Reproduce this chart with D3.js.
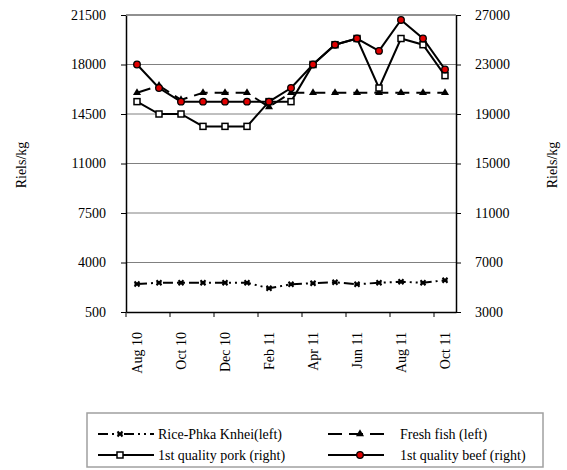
<!DOCTYPE html>
<html><head><meta charset="utf-8">
<script src="https://cdn.jsdelivr.net/npm/d3@7"></script>
<style>body{margin:0;background:#fff}svg text{font-family:"Liberation Serif","DejaVu Serif",serif !important}</style>
</head><body><svg id="c" width="567" height="470"></svg>
<script>
const months = ["Aug 10","Sep 10","Oct 10","Nov 10","Dec 10","Jan 11","Feb 11","Mar 11","Apr 11","May 11","Jun 11","Jul 11","Aug 11","Sep 11","Oct 11"];
const tickLabels = ["Aug 10","Oct 10","Dec 10","Feb 11","Apr 11","Jun 11","Aug 11","Oct 11"];
const leftTicks = [500,4000,7500,11000,14500,18000,21500];
const rightTicks = [3000,7000,11000,15000,19000,23000,27000];
const rice = [2480,2570,2570,2570,2570,2570,2180,2460,2530,2600,2460,2570,2640,2570,2740];
const fish = [16000,16500,15500,16000,16000,16000,15000,16000,16000,16000,16000,16000,16000,16000,16000];
const pork = [20000,19000,19000,18000,18000,18000,20000,20000,23000,24600,25100,21100,25100,24600,22100];
const beef = [23000,21100,20000,20000,20000,20000,20000,21100,23000,24600,25100,24100,26600,25100,22600];

const svg = d3.select("#c");
const L=126,R=456,T=15,B=312;
const x = d3.scaleBand().domain(months).range([L,R]);
const yL = d3.scaleLinear().domain([500,21500]).range([B,T]);
const yR = d3.scaleLinear().domain([3000,27000]).range([B,T]);

svg.append("g").selectAll("line").data(leftTicks.slice(1)).join("line")
  .attr("x1",L).attr("x2",R).attr("y1",d=>yL(d)).attr("y2",d=>yL(d))
  .attr("stroke","#808080").attr("stroke-width",1);

const axL = svg.append("g").attr("transform",`translate(${L},0)`)
  .call(d3.axisLeft(yL).tickValues(leftTicks).tickSize(5).tickSizeOuter(0).tickFormat(d3.format("d")));
const axR = svg.append("g").attr("transform",`translate(${R},0)`)
  .call(d3.axisRight(yR).tickValues(rightTicks).tickSize(5).tickSizeOuter(0).tickFormat(d3.format("d")));
const axB = svg.append("g").attr("transform",`translate(0,${B})`)
  .call(d3.axisBottom(x).tickValues(tickLabels).tickSize(0).tickSizeOuter(0));
[axL,axR,axB].forEach(a=>{a.attr("font-family",null);
  a.select(".domain").attr("stroke","#000").attr("stroke-width",1.5);
  a.selectAll("line").attr("stroke","#000");
  a.selectAll("text").attr("font-size",14).attr("fill","#000");});
axL.selectAll("text").attr("x",-20);
axR.selectAll("text").attr("x",19);
axB.selectAll("text").attr("transform","rotate(-90)").attr("text-anchor","end")
  .attr("x",-20).attr("y",0).attr("dy","0.35em");
svg.append("g").selectAll("line").data(d3.range(0,16,2)).join("line")
  .attr("x1",i=>L+i*x.bandwidth()).attr("x2",i=>L+i*x.bandwidth())
  .attr("y1",B).attr("y2",B+5).attr("stroke","#000");
svg.append("line").attr("x1",L).attr("x2",R).attr("y1",T).attr("y2",T).attr("stroke","#808080").attr("stroke-width",1.5);

svg.append("text").attr("transform","translate(26,165) rotate(-90)").attr("text-anchor","middle")
  .attr("font-size",14).text("Riels/kg");
svg.append("text").attr("transform","translate(557,165) rotate(-90)").attr("text-anchor","middle")
  .attr("font-size",14).text("Riels/kg");

const cx = i=>x(months[i])+x.bandwidth()/2;
function drawLine(vals, y, dash){
  svg.append("path").datum(vals)
    .attr("d", d3.line().x((d,i)=>cx(i)).y(d=>y(d)))
    .attr("fill","none").attr("stroke","#000").attr("stroke-width",2)
    .attr("stroke-dasharray",dash);
}
function marker(g, type, px, py){
  if(type==="x"){
    g.append("path").attr("d",`M${px-2.5},${py-2.5}L${px+2.5},${py+2.5}M${px+2.5},${py-2.5}L${px-2.5},${py+2.5}M${px-2.5},${py}L${px+2.5},${py}`)
      .attr("stroke","#000").attr("stroke-width",2);
  } else if(type==="tri"){
    g.append("path").attr("d",d3.symbol(d3.symbolTriangle,28)()).attr("transform",`translate(${px},${py})`).attr("fill","#000");
  } else if(type==="sq"){
    g.append("rect").attr("x",px-3).attr("y",py-3).attr("width",6).attr("height",6)
      .attr("fill","#fff").attr("stroke","#000").attr("stroke-width",1.5);
  } else {
    g.append("circle").attr("cx",px).attr("cy",py).attr("r",3.3)
      .attr("fill","#e00000").attr("stroke","#000").attr("stroke-width",1.3);
  }
}
const series = [
  {vals:rice,y:yL,dash:"10,4,2,4,2,4",m:"x",name:"Rice-Phka Knhei(left)"},
  {vals:fish,y:yL,dash:"14,7",m:"tri",name:"Fresh fish (left)"},
  {vals:pork,y:yR,dash:null,m:"sq",name:"1st quality pork (right)"},
  {vals:beef,y:yR,dash:null,m:"c",name:"1st quality beef (right)"}
];
series.forEach(s=>{
  drawLine(s.vals,s.y,s.dash);
  const g=svg.append("g");
  s.vals.forEach((v,i)=>marker(g,s.m,cx(i),s.y(v)));
});

svg.append("rect").attr("x",87).attr("y",413).attr("width",456).attr("height",54)
  .attr("fill","#fff").attr("stroke","#a0a0a0").attr("stroke-width",1.5);
const lpos=[[98,434],[328,434],[98,455],[328,455]];
series.forEach((s,i)=>{
  const [lx,ly]=lpos[i];
  const g=svg.append("g");
  g.append("line").attr("x1",lx).attr("x2",lx+56).attr("y1",ly).attr("y2",ly)
    .attr("stroke","#000").attr("stroke-width",2).attr("stroke-dasharray",s.dash);
  marker(g,s.m,lx+(i%2===0?22:32),ly);
  g.append("text").attr("x",lx+(i%2===0?60:72)).attr("y",ly).attr("dy","0.35em")
    .attr("font-size",14).text(s.name);
});
</script></body></html>
